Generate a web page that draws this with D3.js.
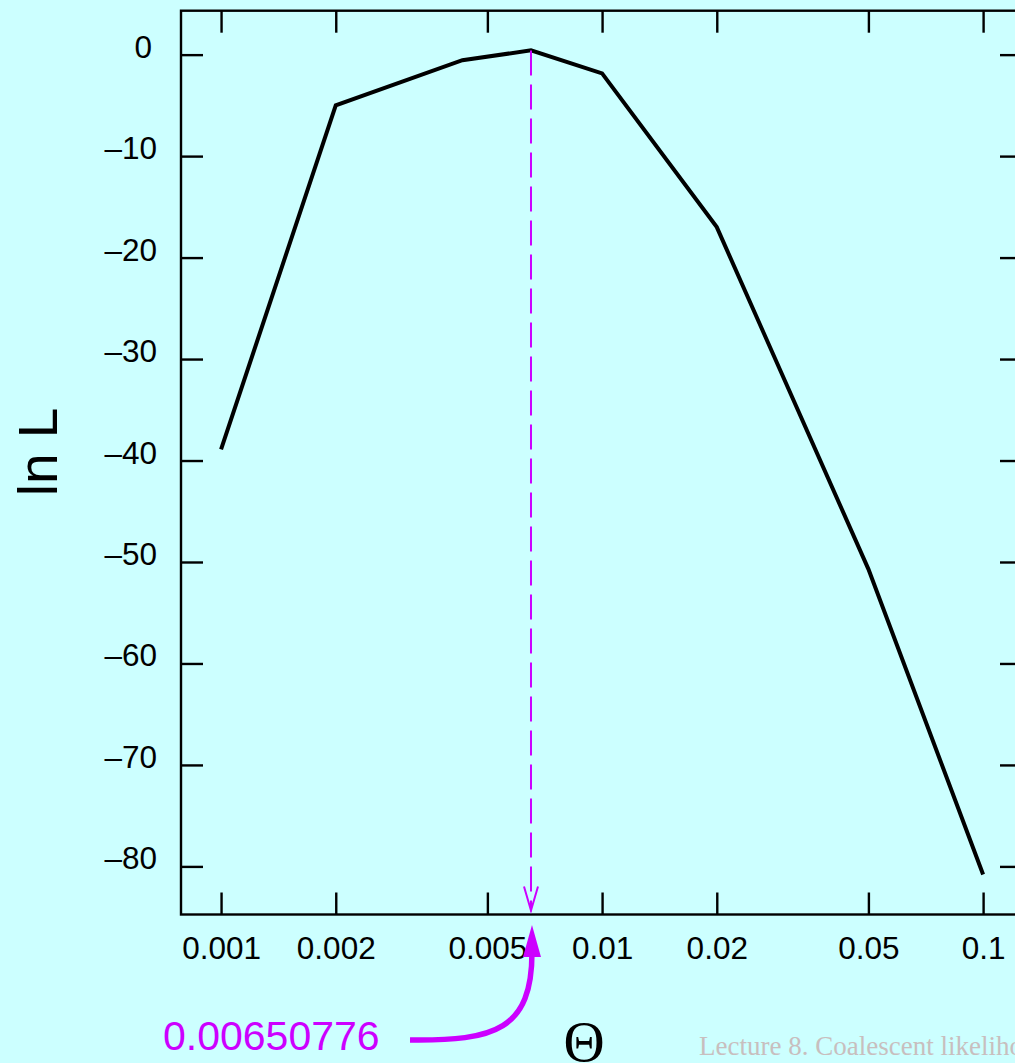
<!DOCTYPE html>
<html>
<head>
<meta charset="utf-8">
<script src="https://cdn.jsdelivr.net/npm/d3@7"></script>
<style>
  html, body { margin: 0; padding: 0; background: #ccffff; overflow: hidden; }
  svg { display: block; }
</style>
</head>
<body>
<div id="chart"></div>
<script>
// theta values and the log-likelihood curve
const thetas = [0.001, 0.002, 0.0043, 0.00650776, 0.01, 0.02, 0.05, 0.1];
const lnL = [-38.9, -5.0, -0.55, 0.42, -1.85, -17.0, -50.7, -80.8];
const xTicks = [0.001, 0.002, 0.005, 0.01, 0.02, 0.05, 0.1];
const yTicks = [0, -10, -20, -30, -40, -50, -60, -70, -80];
const mle = 0.00650776;
const mleLabel = '0.00650776';

const width = 1015;
const height = 1063;
const frame = { left: 181, right: 1022, top: 10.7, bottom: 914.5 };
const magenta = '#cc00ff';

const svg = d3.select('#chart')
  .append('svg')
  .attr('width', width)
  .attr('height', height);

svg.append('rect')
  .attr('width', width)
  .attr('height', height)
  .attr('fill', '#ccffff');

const x = d3.scaleLog()
  .domain([0.000785, 0.1265])
  .range([frame.left, frame.right]);

const y = d3.scaleLinear()
  .domain([-84.74, 4.33])
  .range([frame.bottom, frame.top]);

const fmt = v => (v < 0 ? '\u2013' + Math.abs(v) : String(v));

// axes: ticks point inward, labels only on left and bottom
const tickLen = 22;

const axisL = svg.append('g')
  .attr('transform', 'translate(' + frame.left + ',0)')
  .call(d3.axisLeft(y).tickValues(yTicks).tickSize(-tickLen).tickPadding(24).tickFormat(fmt));

const axisR = svg.append('g')
  .attr('transform', 'translate(' + frame.right + ',0)')
  .call(d3.axisRight(y).tickValues(yTicks).tickSize(-tickLen).tickFormat(''));

const axisB = svg.append('g')
  .attr('transform', 'translate(0,' + frame.bottom + ')')
  .call(d3.axisBottom(x).tickValues(xTicks).tickSize(-tickLen).tickPadding(22).tickFormat(d => String(d)));

const axisT = svg.append('g')
  .attr('transform', 'translate(0,' + frame.top + ')')
  .call(d3.axisTop(x).tickValues(xTicks).tickSize(-tickLen).tickFormat(''));

[axisL, axisR, axisB, axisT].forEach(g => {
  g.select('.domain').remove();
  g.selectAll('line').attr('stroke', '#000').attr('stroke-width', 2.4);
  g.selectAll('text')
    .attr('fill', '#000')
    .style('font-family', '"Liberation Sans", Arial, sans-serif')
    .style('font-size', '31.5px');
});
axisL.selectAll('text').attr('dy', '0.08em');
// the zero label sits a little left of the others
axisL.selectAll('text').filter(d => d === 0).attr('x', -29);

// plot frame
svg.append('rect')
  .attr('x', frame.left)
  .attr('y', frame.top)
  .attr('width', frame.right - frame.left)
  .attr('height', frame.bottom - frame.top)
  .attr('fill', 'none')
  .attr('stroke', '#000')
  .attr('stroke-width', 2.4);

// likelihood curve
const data = thetas.map((t, i) => ({ t: t, v: lnL[i] }));
svg.append('path')
  .datum(data)
  .attr('fill', 'none')
  .attr('stroke', '#000')
  .attr('stroke-width', 4)
  .attr('stroke-linejoin', 'miter')
  .attr('d', d3.line().x(d => x(d.t)).y(d => y(d.v)));

// dashed drop line from the maximum down to the axis
const mx = x(mle);
const peak = lnL[thetas.indexOf(mle)];
svg.append('line')
  .attr('x1', mx).attr('x2', mx)
  .attr('y1', y(peak)).attr('y2', frame.bottom - 3)
  .attr('stroke', magenta)
  .attr('stroke-width', 2)
  .attr('stroke-dasharray', '25,9');

svg.append('path')
  .attr('d', 'M' + (mx - 7) + ',' + (frame.bottom - 28) + 'L' + mx + ',' + (frame.bottom - 4) + 'L' + (mx + 7) + ',' + (frame.bottom - 28))
  .attr('fill', 'none')
  .attr('stroke', magenta)
  .attr('stroke-width', 2);

// curved arrow from the value label up to the axis
const ax = mx + 1;
svg.append('path')
  .attr('d', 'M410,1040 C495,1041 ' + ax + ',1030 ' + ax + ',952')
  .attr('fill', 'none')
  .attr('stroke', magenta)
  .attr('stroke-width', 5.5);

svg.append('path')
  .attr('d', 'M' + ax + ',925 L' + (ax + 9) + ',957 L' + (ax - 9) + ',957 Z')
  .attr('fill', magenta);

svg.append('text')
  .attr('x', 163)
  .attr('y', 1050)
  .attr('fill', magenta)
  .style('font-family', '"Liberation Sans", Arial, sans-serif')
  .style('font-size', '41px')
  .text(mleLabel);

// axis titles
svg.append('text')
  .attr('transform', 'translate(57,452) rotate(-90)')
  .attr('text-anchor', 'middle')
  .attr('fill', '#000')
  .style('font-family', '"Liberation Sans", Arial, sans-serif')
  .style('font-size', '55px')
  .text('ln L');

svg.append('text')
  .attr('x', 584)
  .attr('y', 1061)
  .attr('text-anchor', 'middle')
  .attr('fill', '#000')
  .style('font-family', '"Liberation Serif", "Times New Roman", serif')
  .style('font-size', '57px')
  .text('\u0398');

// footer, runs off the right edge as in the slide
svg.append('text')
  .attr('x', 699)
  .attr('y', 1055)
  .attr('fill', '#c8bebe')
  .style('font-family', '"Liberation Serif", "Times New Roman", serif')
  .style('font-size', '27px')
  .text('Lecture 8. Coalescent likelihood');
</script>
</body>
</html>
